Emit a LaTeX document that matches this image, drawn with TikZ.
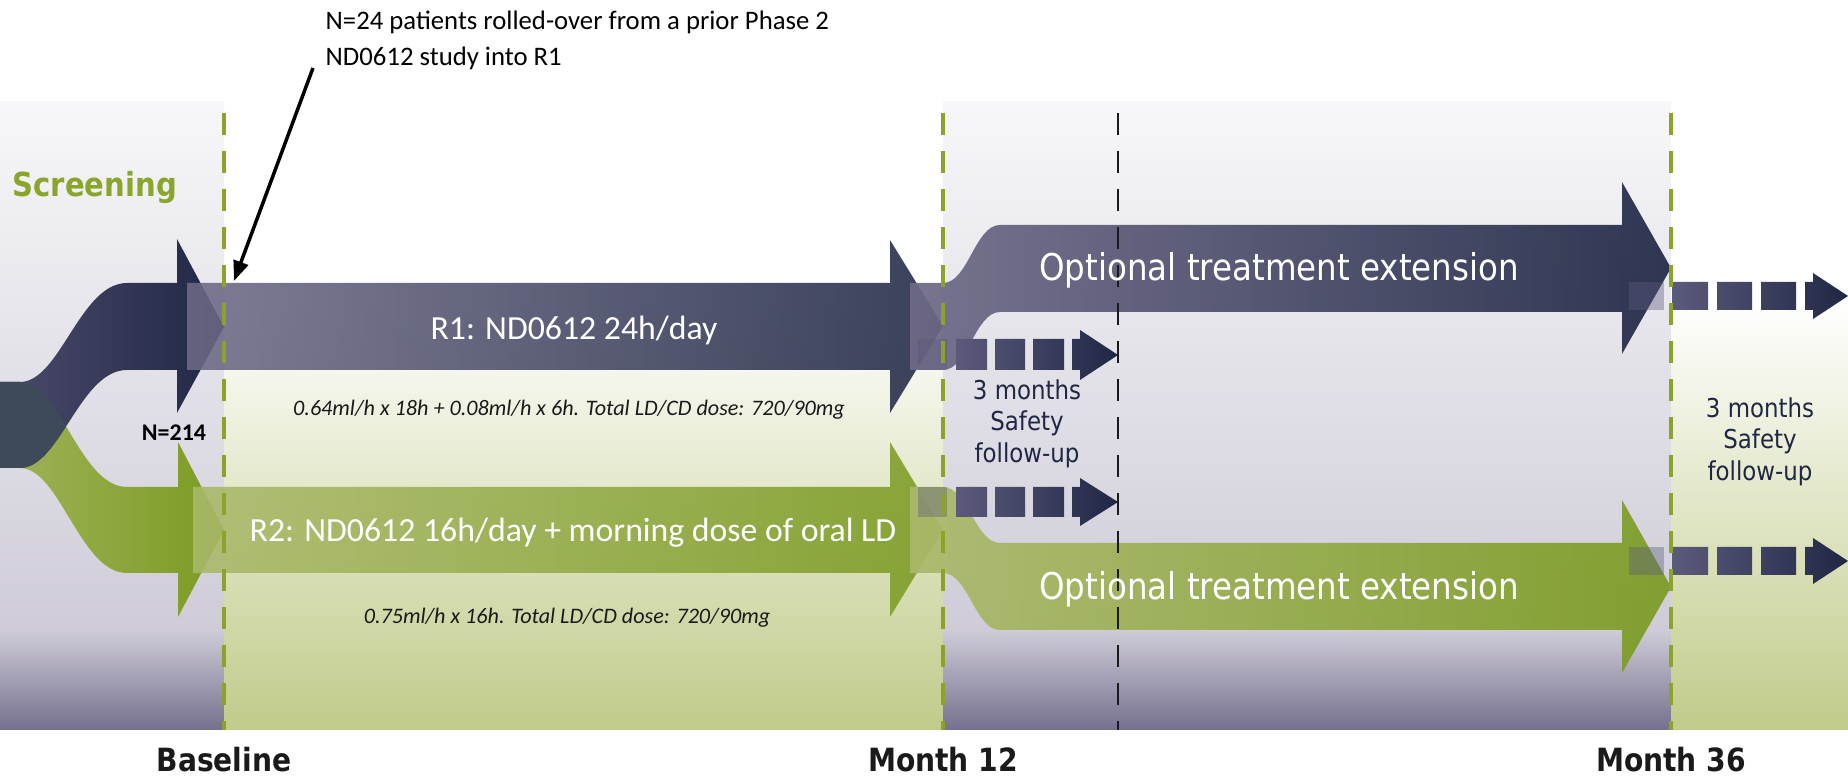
\documentclass[tikz,border=0pt]{standalone}
\usepackage{fontspec}
\setmainfont{Carlito}
\newfontfamily\tah[FakeStretch=0.88]{DejaVu Sans}
\usetikzlibrary{arrows.meta}
\definecolor{navy}{HTML}{1F2744}
\definecolor{navyL}{HTML}{6E6A88}
\definecolor{navyB}{HTML}{4C4A6B}
\definecolor{grn}{HTML}{7B9B22}
\definecolor{grnL}{HTML}{AAB96B}
\definecolor{grnB}{HTML}{A0B25A}
\definecolor{slate}{HTML}{3E4A59}
\definecolor{lavtop}{HTML}{F7F7F9}
\definecolor{lavmid}{HTML}{CFCCD8}
\definecolor{lavbot}{HTML}{75708E}
\definecolor{gbot}{HTML}{C1CB8A}
\definecolor{scrgreen}{HTML}{8AA52B}
\definecolor{dashgreen}{HTML}{8AA32A}
\definecolor{fuL}{HTML}{5C5A7B}
\definecolor{ink}{HTML}{1A1A1A}
\begin{document}
\begin{tikzpicture}[x=0.01cm,y=-0.01cm,
  lavA/.style={top color=lavtop,bottom color=lavmid,draw=none},
  lavB/.style={top color=lavmid,bottom color=lavbot,draw=none},
  grnpanel/.style={top color=white,bottom color=gbot,draw=none},
  navyarrow/.style={left color=navyL,right color=navy,draw=none},
  grnarrow/.style={left color=grnL,right color=grn,draw=none},
  fuarrow/.style={left color=fuL,right color=navy,draw=none},
  fufaint/.style={fill=fuL,fill opacity=0.4,draw=none},
  milestone/.style={draw=dashgreen,line width=0.04cm,dash pattern=on 0.22cm off 0.16cm},
  blackline/.style={draw=ink,line width=0.025cm,dash pattern=on 0.22cm off 0.16cm},
  note/.style={font=\fontsize{7.6}{9}\selectfont,text=black,inner sep=0pt},
  armlabel/.style={font=\fontsize{9.6}{11}\selectfont,text=white,inner sep=0pt},
  doselabel/.style={font=\fontsize{6.3}{7.5}\selectfont\itshape,text=ink,inner sep=0pt},
  extlabel/.style={font=\tah\fontsize{10.5}{12}\selectfont,text=white,inner sep=0pt},
  fulabel/.style={font=\tah\fontsize{7.4}{8.9}\selectfont,text=navy,align=center,inner sep=0pt},
  timelabel/.style={font=\tah\bfseries\fontsize{9.1}{11}\selectfont,text=ink,inner sep=0pt},
  annot/.style={draw=black,line width=0.035cm,-{Triangle[length=0.2cm,width=0.15cm]}}
]
\useasboundingbox (0,0) rectangle (1848,777);
\fill[white] (0,0) rectangle (1848,777);

% ---------- background panels ----------
\shade[lavA] (0,102) rectangle (224,630);
\shade[lavB] (0,630) rectangle (224,730);
\shade[grnpanel] (224,300) rectangle (943,730);
\shade[lavA] (943,102) rectangle (1671,630);
\shade[lavB] (943,630) rectangle (1671,730);
\shade[grnpanel] (1671,300) rectangle (1848,730);

% ---------- randomisation branches ----------
\shade[left color=grnB,right color=grn]
  (0,382) -- (20,382) .. controls (60,382) and (80,487) .. (127,487) -- (178,487)
  -- (178,442) -- (224,530) -- (178,617) -- (178,573) -- (127,573)
  .. controls (80,573) and (60,468) .. (20,468) -- (0,468) -- cycle;
\shade[left color=navyB,right color=navy]
  (0,382) -- (20,382) .. controls (60,382) and (80,283) .. (127,283) -- (177,283)
  -- (177,239) -- (224,327) -- (177,413) -- (177,370) -- (127,370)
  .. controls (80,370) and (60,468) .. (20,468) -- (0,468) -- cycle;
\begin{scope}
  \clip (0,382) -- (20,382) .. controls (60,382) and (80,283) .. (127,283) -- (127,370)
    .. controls (80,370) and (60,468) .. (20,468) -- (0,468) -- cycle;
  \fill[slate] (0,382) -- (20,382) .. controls (60,382) and (80,487) .. (127,487) -- (127,573)
    .. controls (80,573) and (60,468) .. (20,468) -- (0,468) -- cycle;
\end{scope}

% ---------- main arms ----------
\shade[grnarrow,fill opacity=0.88]
  (193,487) -- (890,487) -- (890,442) -- (943,530) -- (890,617) -- (890,573) -- (193,573) -- cycle;
\shade[navyarrow,fill opacity=0.88]
  (187,283) -- (890,283) -- (890,240) -- (943,326) -- (890,413) -- (890,370) -- (187,370) -- cycle;

% ---------- optional extensions ----------
\shade[left color=navyL,right color=navy,fill opacity=0.92]
  (910,283) -- (943,283) .. controls (968,283) and (975,225) .. (1000,225) -- (1622,225)
  -- (1622,182) -- (1671,268) -- (1622,354) -- (1622,312) -- (1000,312)
  .. controls (975,312) and (968,370) .. (943,370) -- (910,370) -- cycle;
\shade[left color=grnL,right color=grn,fill opacity=0.92]
  (910,487) -- (943,487) .. controls (968,487) and (975,543) .. (1000,543) -- (1622,543)
  -- (1622,500) -- (1671,587) -- (1622,673) -- (1622,630) -- (1000,630)
  .. controls (975,630) and (968,573) .. (943,573) -- (910,573) -- cycle;

% ---------- safety follow-up dashed arrows ----------
% after month 12, upper
\path[fufaint] (918,339) rectangle (947,370);
\shade[fuarrow] (956,339) rectangle (987,370) (995,339) rectangle (1025,370)
  (1033,339) rectangle (1064,370)
  (1072,339) -- (1080,339) -- (1080,330) -- (1118,355) -- (1080,380) -- (1080,370) -- (1072,370) -- cycle;
% after month 12, lower
\path[fufaint] (918,487) rectangle (947,517);
\shade[fuarrow] (956,487) rectangle (987,517) (995,487) rectangle (1025,517)
  (1033,487) rectangle (1064,517)
  (1072,487) -- (1080,487) -- (1080,478) -- (1118,502) -- (1080,526) -- (1080,517) -- (1072,517) -- cycle;
% after month 36, upper
\path[fufaint] (1629,282) rectangle (1664,310);
\shade[fuarrow] (1672,282) rectangle (1708,310) (1717,282) rectangle (1752,310)
  (1761,282) rectangle (1796,310)
  (1805,282) -- (1813,282) -- (1813,273) -- (1848,296) -- (1813,319) -- (1813,310) -- (1805,310) -- cycle;
% after month 36, lower
\path[fufaint] (1629,547) rectangle (1664,575);
\shade[fuarrow] (1672,547) rectangle (1708,575) (1717,547) rectangle (1752,575)
  (1761,547) rectangle (1796,575)
  (1805,547) -- (1813,547) -- (1813,538) -- (1848,561) -- (1813,584) -- (1813,575) -- (1805,575) -- cycle;

% ---------- milestone lines ----------
\draw[milestone] (224,113) -- (224,730);
\draw[milestone] (943,113) -- (943,730);
\draw[milestone] (1671,113) -- (1671,730);
\draw[blackline] (1118,113) -- (1118,730);

% ---------- texts ----------
\node[note,anchor=base west] (note1) at (325,30) {N=24 patients rolled-over from a prior Phase 2};
\node[note,anchor=base west] (note2) at (325,66) {ND0612 study into R1};
\coordinate (rollA) at (313,68);
\coordinate (rollB) at (234,281);
\draw[annot] (rollA) -- (rollB);

\node[font=\tah\bfseries\fontsize{9.4}{11}\selectfont,text=scrgreen,inner sep=0pt,anchor=base west] (scr) at (12,197) {Screening};
\node[font=\bfseries\fontsize{6.8}{8}\selectfont,inner sep=0pt,anchor=base] (n214) at (174,441) {N=214};

\node[armlabel,anchor=base] (r1) at (574,340) {R1: ND0612 24h/day};
\node[doselabel,anchor=base] (d1) at (569,416) {0.64ml/h x 18h + 0.08ml/h x 6h. Total LD/CD dose: 720/90mg};
\node[armlabel,anchor=base] (r2) at (573,542) {R2: ND0612 16h/day + morning dose of oral LD};
\node[doselabel,anchor=base] (d2) at (567,624) {0.75ml/h x 16h. Total LD/CD dose: 720/90mg};

\node[extlabel,anchor=base] (ext1) at (1279,281) {Optional treatment extension};
\node[extlabel,anchor=base] (ext2) at (1279,600) {Optional treatment extension};

\node[fulabel,anchor=north] (fu1) at (1027,379) {3 months\\Safety\\follow-up};
\node[fulabel,anchor=north] (fu2) at (1760,397) {3 months\\Safety\\follow-up};

\node[timelabel,anchor=base] (t0) at (224,772) {Baseline};
\node[timelabel,anchor=base] (t12) at (943,772) {Month 12};
\node[timelabel,anchor=base] (t36) at (1671,772) {Month 36};
\end{tikzpicture}
\end{document}
